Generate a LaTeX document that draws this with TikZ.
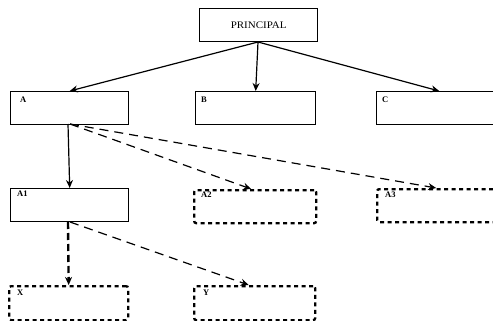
\documentclass[tikz,border=0pt]{standalone}
\usepackage{fontspec}
\setmainfont{Liberation Serif}
\usetikzlibrary{arrows.meta}
\begin{document}
\begin{tikzpicture}[x=1pt,y=-1pt,
  box/.style={draw, line width=1.4pt, minimum width=118pt, minimum height=33pt,
    inner sep=0pt, anchor=north west},
  future/.style={box, line width=2.3pt, dash pattern=on 4pt off 3.5pt, rounded corners=2pt},
  tag/.style={font=\bfseries\fontsize{8.5}{10}\selectfont, inner sep=0pt, anchor=north west},
  link/.style={line width=1.2pt, -{Stealth[length=8pt,width=7pt]}},
  dlink/.style={link, dash pattern=on 9pt off 6pt},
]
\useasboundingbox (0,0) rectangle (493,321);

% top level
\node[box] (p) at (199,8) {};
\node[font=\fontsize{10}{12}\selectfont, xscale=1.1] at (p.center) {PRINCIPAL};

% second level
\node[box] (a) at (10,91) {};
\node[box, minimum width=120pt] (b) at (195,91) {};
\node[box, minimum width=125pt] (c) at (376,91) {};
\node[tag] at (20,97) {A};
\node[tag] at (201,97) {B};
\node[tag] at (382,97) {C};

% third level
\node[box] (a1) at (10,188) {};
\node[future, minimum width=122pt] (a2) at (193,189) {};
\node[future] (a3) at (376,188) {};
\node[tag] at (17,191) {A1};
\node[tag] at (201,192) {A2};
\node[tag] at (385,192) {A3};

% fourth level
\node[future, minimum width=119pt, minimum height=34pt] (x) at (8,285) {};
\node[future, minimum width=121pt, minimum height=34pt] (y) at (193,285) {};
\node[tag] at (17,290) {X};
\node[tag] at (203,290) {Y};

% connectors
\coordinate (pb) at (258,42);
\draw[link] (pb) -- (a.north);
\draw[link] (pb) -- (b.north);
\draw[link] (pb) -- (c.north);

\coordinate (ab) at (68,124);
\draw[link] (ab) -- (a1.north);
\draw[dlink] ([xshift=2pt]ab) -- ([xshift=-4pt]a2.north);
\draw[dlink] ([xshift=2pt]ab) -- (a3.north);

\coordinate (a1b) at (68,222);
\draw[dlink, line width=2.4pt, dash pattern=on 7pt off 4pt] (a1b) -- (x.north);
\draw[dlink] ([xshift=2pt]a1b) -- ([xshift=-6pt]y.north);
\end{tikzpicture}
\end{document}
